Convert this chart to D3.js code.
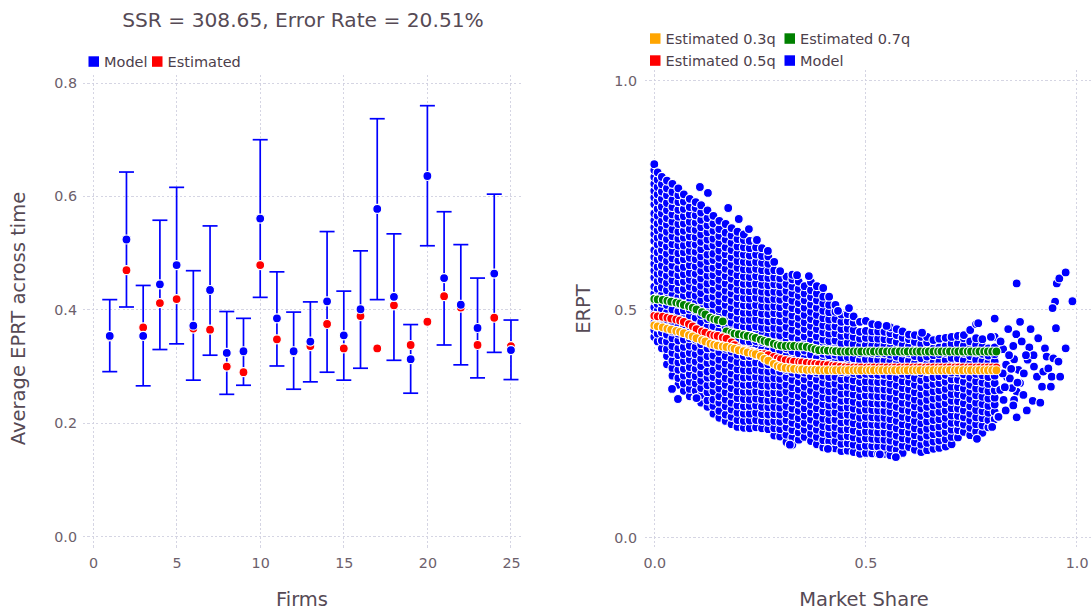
<!DOCTYPE html>
<html>
<head>
<meta charset="utf-8">
<script src="https://cdn.jsdelivr.net/npm/d3@7"></script>
<style>
  html, body { margin: 0; padding: 0; background: #ffffff; }
  svg { display: block; font-family: "DejaVu Sans", sans-serif; }
</style>
</head>
<body>
<svg id="chart" width="1091" height="612"></svg>
<script>
// ---------- Left panel: average EPRT per firm ----------
const titleText = "SSR = 308.65, Error Rate = 20.51%";
const firms = [1,2,3,4,5,6,7,8,9,10,11,12,13,14,15,16,17,18,19,20,21,22,23,24,25];
const modelMean = [.354,.524,.354,.445,.479,.372,.435,.324,.327,.561,.385,.327,.344,.415,.355,.401,.578,.423,.313,.636,.456,.409,.368,.464,.329];
const modelLow  = [.291,.405,.266,.330,.340,.276,.320,.251,.267,.422,.301,.260,.273,.290,.276,.297,.418,.311,.253,.513,.338,.303,.280,.325,.277];
const modelHigh = [.418,.643,.443,.558,.616,.469,.548,.397,.385,.700,.467,.396,.414,.538,.433,.504,.737,.534,.374,.760,.573,.515,.456,.604,.382];
const estimated = [.353,.470,.369,.412,.419,.367,.365,.300,.290,.479,.348,.326,.336,.375,.332,.389,.332,.408,.338,.379,.424,.404,.338,.386,.336];
const firmTicks = [0,5,10,15,20,25];
const eprtTicks = [0,0.2,0.4,0.6,0.8];

// ---------- Right panel: ERPT against market share ----------
const shareTicks = [0,0.5,1];
const erptTicks = [0,0.5,1];

// model observations, grouped by market-share column
const modelShareCols = [0,.008,.018,.03,.043,.057,.07,.084,.098,.111,.126,.14,.154,.169,.183,.197,.212,.226,.241,.255,.27,.284,.298,.313,.327,.342,.356,.371,.385,.4,.414,.429,.443,.458,.472,.487,.501,.516,.53,.545,.559,.574,.588,.603,.617,.632,.646,.661,.675,.69,.704,.719,.733,.748,.762,.777,.791,.806];
const modelErptCols = [
  [.44,.455,.47,.49,.505,.52,.535,.55,.57,.585,.6,.615,.63,.65,.665,.68,.695,.71,.73,.745,.76,.775,.79,.805,.818],
  [.43,.447,.462,.48,.497,.512,.528,.545,.562,.578,.593,.61,.625,.642,.657,.673,.688,.705,.72,.737,.752,.768,.784,.8],
  [.415,.432,.45,.466,.483,.5,.515,.532,.548,.565,.58,.596,.613,.63,.645,.66,.677,.693,.71,.725,.742,.758,.774,.79],
  [.38,.398,.413,.43,.445,.462,.478,.493,.51,.526,.542,.558,.574,.59,.606,.622,.638,.654,.67,.686,.7,.717,.733,.75,.765,.782],
  [.355,.372,.388,.405,.42,.437,.452,.468,.485,.5,.516,.532,.548,.564,.58,.596,.612,.628,.643,.66,.675,.692,.708,.724,.74,.757,.775],
  [.335,.35,.368,.384,.4,.415,.432,.447,.463,.48,.496,.512,.527,.543,.56,.575,.59,.607,.623,.64,.655,.67,.687,.703,.718,.735,.75,.765],
  [.322,.338,.355,.37,.387,.402,.418,.434,.45,.466,.482,.498,.513,.53,.545,.561,.577,.593,.61,.625,.64,.657,.672,.688,.704,.72,.736,.752],
  [.31,.326,.342,.358,.374,.39,.405,.421,.437,.453,.47,.485,.5,.517,.533,.55,.565,.58,.597,.613,.628,.644,.66,.676,.692,.708,.724,.742],
  [.306,.322,.338,.354,.37,.386,.402,.418,.434,.45,.466,.482,.498,.514,.53,.546,.562,.578,.594,.61,.626,.642,.658,.674,.69,.706,.722,.735],
  [.296,.312,.328,.344,.36,.376,.392,.408,.424,.44,.456,.472,.488,.504,.52,.536,.552,.568,.584,.6,.616,.632,.648,.664,.68,.696,.712,.728],
  [.287,.301,.319,.334,.351,.364,.383,.398,.415,.428,.447,.462,.479,.493,.511,.525,.543,.557,.574,.59,.606,.62,.638,.653,.669,.684,.7,.717],
  [.272,.289,.303,.321,.336,.352,.367,.385,.399,.416,.431,.449,.463,.48,.496,.511,.528,.543,.56,.575,.591,.608,.622,.64,.655,.672,.688,.705],
  [.263,.278,.296,.31,.327,.343,.358,.375,.39,.407,.421,.439,.454,.47,.486,.501,.518,.533,.55,.565,.582,.597,.613,.629,.645,.661,.676,.694],
  [.256,.27,.288,.303,.319,.335,.35,.367,.382,.398,.414,.43,.446,.461,.478,.493,.51,.525,.541,.557,.573,.589,.605,.621,.636,.653,.668,.687],
  [.249,.265,.281,.296,.313,.328,.345,.36,.376,.392,.408,.423,.44,.455,.471,.487,.503,.519,.535,.55,.567,.582,.598,.614,.63,.646,.662,.678],
  [.243,.258,.274,.29,.306,.321,.338,.353,.369,.385,.401,.416,.433,.448,.464,.48,.496,.512,.527,.543,.559,.575,.591,.606,.622,.638,.654,.67],
  [.241,.256,.272,.288,.304,.32,.335,.351,.367,.383,.398,.414,.43,.446,.462,.477,.493,.509,.525,.541,.556,.572,.588,.604,.62,.636,.652,.664],
  [.24,.257,.272,.289,.303,.32,.335,.352,.366,.383,.398,.414,.43,.445,.461,.477,.493,.508,.524,.54,.556,.571,.587,.603,.618,.634,.65],
  [.242,.258,.274,.29,.305,.321,.337,.353,.368,.384,.4,.416,.431,.447,.463,.478,.494,.51,.526,.541,.557,.573,.589,.604,.62,.636,.652],
  [.24,.256,.271,.287,.303,.319,.334,.35,.366,.381,.397,.413,.429,.444,.46,.476,.491,.507,.523,.539,.554,.57,.586,.602,.617,.634],
  [.238,.254,.27,.286,.301,.317,.333,.349,.364,.38,.396,.411,.427,.443,.459,.474,.49,.506,.522,.537,.553,.569,.584,.6,.616,.628],
  [.224,.24,.256,.271,.287,.303,.319,.334,.35,.366,.382,.397,.413,.429,.445,.46,.476,.492,.507,.523,.539,.555,.57,.586,.604],
  [.222,.238,.254,.27,.285,.301,.317,.333,.348,.364,.38,.395,.411,.427,.443,.458,.474,.49,.505,.521,.537,.553,.568,.584],
  [.21,.226,.242,.258,.273,.289,.305,.321,.336,.352,.368,.383,.399,.415,.431,.446,.462,.478,.493,.509,.525,.541,.556,.572],
  [.204,.22,.236,.252,.267,.283,.299,.315,.33,.346,.362,.377,.393,.409,.425,.44,.456,.472,.487,.503,.519,.535,.55,.566,.576],
  [.215,.231,.247,.262,.278,.294,.31,.325,.341,.357,.372,.388,.404,.42,.435,.451,.467,.482,.498,.514,.53,.545,.561],
  [.221,.237,.252,.268,.284,.3,.315,.331,.347,.362,.378,.394,.41,.425,.441,.457,.472,.488,.504,.52,.535,.551],
  [.212,.228,.244,.259,.275,.291,.307,.322,.338,.354,.369,.385,.401,.417,.432,.448,.464,.479,.495,.511,.527,.542,.56],
  [.205,.221,.237,.252,.268,.284,.3,.315,.331,.347,.362,.378,.394,.41,.425,.441,.457,.472,.488,.504,.52,.535,.551],
  [.198,.214,.23,.245,.261,.277,.293,.308,.324,.34,.355,.371,.387,.403,.418,.434,.45,.465,.481,.497,.513,.528],
  [.195,.211,.227,.242,.258,.274,.29,.305,.321,.337,.352,.368,.384,.4,.415,.431,.447,.462,.478,.494,.51,.528],
  [.196,.212,.228,.243,.259,.275,.291,.306,.322,.338,.353,.369,.385,.401,.416,.432,.448,.463,.479,.495,.51],
  [.19,.206,.222,.237,.253,.269,.285,.3,.316,.332,.347,.363,.379,.395,.41,.426,.442,.457,.473,.489],
  [.191,.207,.223,.238,.254,.27,.286,.301,.317,.333,.348,.364,.38,.396,.411,.427,.443,.458,.474,.49],
  [.188,.204,.22,.235,.251,.267,.283,.298,.314,.33,.345,.361,.377,.393,.408,.424,.44,.455,.471,.485],
  [.184,.2,.216,.231,.247,.263,.279,.294,.31,.326,.341,.357,.373,.389,.404,.42,.436,.451,.473],
  [.186,.202,.218,.233,.249,.265,.281,.296,.312,.328,.343,.359,.375,.391,.406,.422,.438,.453,.475],
  [.185,.201,.217,.232,.248,.264,.28,.295,.311,.327,.342,.358,.374,.39,.405,.421,.437,.452,.468],
  [.184,.2,.216,.231,.247,.263,.279,.294,.31,.326,.341,.357,.373,.389,.404,.42,.436,.452,.466],
  [.184,.2,.215,.231,.247,.263,.278,.294,.31,.325,.341,.357,.373,.388,.404,.42,.435,.451],
  [.181,.197,.213,.228,.244,.26,.276,.291,.307,.323,.338,.354,.37,.386,.401,.417,.433,.448,.461],
  [.177,.193,.209,.224,.24,.256,.272,.287,.303,.319,.334,.35,.366,.382,.397,.413,.429,.444,.457],
  [.186,.202,.218,.233,.249,.265,.281,.296,.312,.328,.343,.359,.375,.391,.406,.422,.438,.452],
  [.199,.215,.231,.246,.262,.278,.294,.309,.325,.341,.356,.372,.388,.404,.419,.435,.445],
  [.193,.209,.225,.24,.256,.272,.288,.303,.319,.335,.35,.366,.382,.398,.413,.429,.444],
  [.188,.204,.22,.235,.251,.267,.283,.298,.314,.33,.345,.361,.377,.393,.408,.424,.44],
  [.192,.208,.224,.239,.255,.271,.287,.302,.318,.334,.349,.365,.381,.397,.412,.428,.44],
  [.195,.211,.227,.242,.258,.274,.29,.305,.321,.337,.352,.368,.384,.4,.415,.433],
  [.197,.213,.229,.244,.26,.276,.292,.307,.323,.339,.354,.37,.386,.402,.417,.436],
  [.2,.216,.232,.247,.263,.279,.295,.31,.326,.342,.357,.373,.389,.405,.42,.438],
  [.205,.221,.237,.252,.268,.284,.3,.315,.331,.347,.362,.378,.394,.41,.425,.44],
  [.22,.236,.252,.267,.283,.299,.315,.33,.346,.362,.377,.393,.409,.425,.442],
  [.232,.248,.264,.279,.295,.311,.327,.342,.358,.374,.389,.405,.421,.437,.444],
  [.225,.241,.257,.272,.288,.304,.32,.335,.351,.367,.382,.398,.414,.43,.455],
  [.233,.249,.264,.28,.296,.312,.327,.343,.359,.374,.39,.406,.422,.437,.468],
  [.23,.246,.262,.277,.293,.309,.325,.34,.356,.372,.387,.403,.419,.435],
  [.242,.258,.274,.289,.305,.321,.337,.352,.368,.384,.399,.415],
  [.26,.276,.292,.307,.323,.339,.355,.37,.386,.402,.417,.44,.48]
];
// isolated model observations around the edges of the cloud
const modelShareExtra = [.108,.127,.175,.2,.224,.243,.269,.298,.338,.366,.4,.435,.461,.55,.634,.767,.797,
  .042,.056,.1,.321,.411,.572,.534,.764,.8,.814,
  .819,.827,.832,.815,
  .826,.833,.838,.835,.842,.852,.857,.858,.866,.862,.866,.858,.852,.858,.874,.882,.884,.888,.891,.896,.899,.898,.906,.909,.914,.918,.921,.925,.929,.933,.939,.941,.945,.951,.949,.943,.953,.959,.974,.99,.974,.957,.961,
  .847,
  .82,.825,.83,.84,.845,.85,.85,.86,.87,.875,.88];
const modelErptExtra = [.768,.755,.722,.698,.676,.652,.628,.584,.575,.573,.547,.497,.503,.464,.449,.47,.44,
  .326,.304,.306,.204,.195,.177,.183,.217,.243,.265,
  .324,.302,.279,.265,
  .413,.379,.457,.352,.349,.391,.446,.557,.473,.368,.339,.32,.302,.264,.313,.279,.39,.417,.457,.3,.375,.4,.353,.437,.296,.331,.364,.415,.397,.371,.331,.353,.393,.459,.517,.503,.557,.568,.581,.518,.415,.386,.353,
  .328,
  .43,.36,.33,.40,.37,.42,.29,.34,.43,.36,.40];

// estimated quantile curves of ERPT over market share
const quantShare = [0,.008,.02,.031,.04,.052,.061,.07,.082,.091,.1,.113,.121,.133,.142,.15,.162,.171,.183,.19,.2,.212,.221,.233,.24,.252,.261,.27,.283,.292,.3,.311,.322,.331,.343,.35,.361,.372,.381,.39,.402,.411,.423,.43,.441,.452,.46,.472,.481,.49,.503,.511,.52,.532,.54,.551,.562,.57,.581,.592,.6,.612,.621,.63,.642,.65,.661,.672,.68,.691,.7,.712,.72,.731,.742,.75,.762,.77,.781,.79,.8,.81];
const estQ7 = [.523,.522,.521,.519,.517,.515,.513,.510,.507,.504,.500,.494,.489,.482,.479,.477,.474,.452,.449,.447,.446,.444,.442,.440,.438,.434,.431,.429,.425,.422,.421,.420,.420,.420,.419,.419,.418,.416,.413,.411,.411,.410,.410,.409,.408,.408,.408,.408,.408,.408,.408,.408,.408,.408,.408,.408,.408,.408,.408,.408,.408,.408,.408,.408,.408,.408,.408,.408,.408,.408,.408,.408,.408,.408,.408,.408,.408,.408,.408,.408,.408,.408];
const estQ5 = [.486,.485,.484,.482,.480,.478,.476,.473,.468,.463,.457,.452,.449,.445,.443,.442,.439,.436,.428,.422,.415,.412,.409,.407,.405,.403,.402,.400,.396,.393,.391,.389,.387,.386,.385,.384,.383,.382,.381,.380,.379,.378,.377,.376,.375,.374,.373,.373,.373,.373,.373,.373,.373,.373,.373,.373,.373,.373,.373,.373,.373,.373,.373,.373,.373,.373,.373,.373,.373,.373,.373,.373,.373,.373,.373,.373,.373,.373,.373,.373,.373,.373];
const estQ3 = [.465,.463,.461,.458,.456,.453,.451,.448,.444,.441,.437,.433,.430,.425,.423,.421,.419,.418,.416,.414,.411,.409,.406,.404,.402,.398,.392,.388,.381,.376,.374,.372,.371,.370,.369,.369,.368,.368,.368,.367,.367,.367,.367,.367,.367,.367,.367,.367,.367,.367,.367,.367,.367,.367,.367,.367,.367,.367,.367,.367,.367,.367,.367,.367,.367,.367,.367,.367,.367,.367,.367,.367,.367,.367,.367,.367,.367,.367,.367,.367,.367,.367];

// ---------- styling ----------
const BLUE = "#0000ff", RED = "#ff0000", ORANGE = "#ffa500", GREEN = "#008000";
const GRID = "#d0d0e0", TICK_TEXT = "#6c606b", LABEL_TEXT = "#564a55", KEY_TEXT = "#4c404b";
const PT_R = 4.5, PT_STROKE = 1.2;

const svg = d3.select("#chart");

const leftBox = {x0: 83, x1: 521, y0: 74.5, y1: 548};
const rightBox = {x0: 645, x1: 1091, y0: 70, y1: 548};

const xL = d3.scaleLinear().domain([-0.6, 25.6]).range([leftBox.x0, leftBox.x1]);
const yL = d3.scaleLinear().domain([-0.02, 0.815]).range([leftBox.y1, leftBox.y0]);
const xR = d3.scaleLinear().domain([-0.022, 1.034]).range([rightBox.x0, rightBox.x1]);
const yR = d3.scaleLinear().domain([-0.022, 1.024]).range([rightBox.y1, rightBox.y0]);

function drawGrid(g, x, y, xt, yt, box) {
  const gg = g.append("g").attr("class", "grid");
  gg.selectAll("line.gx").data(xt).join("line").attr("class", "gx")
    .attr("x1", d => x(d)).attr("x2", d => x(d))
    .attr("y1", box.y0).attr("y2", box.y1);
  gg.selectAll("line.gy").data(yt).join("line").attr("class", "gy")
    .attr("x1", box.x0).attr("x2", box.x1)
    .attr("y1", d => y(d)).attr("y2", d => y(d));
  gg.selectAll("line")
    .attr("stroke", GRID).attr("stroke-width", 0.9)
    .attr("stroke-dasharray", "2.2,2.2").attr("shape-rendering", "crispEdges");
}

function styleAxis(sel) {
  sel.select(".domain").remove();
  sel.selectAll(".tick line").remove();
  sel.attr("font-family", null).attr("font-size", null);
  sel.selectAll("text")
    .attr("fill", TICK_TEXT)
    .style("font-family", "'DejaVu Sans', sans-serif")
    .style("font-size", "14.3px");
}

function drawAxes(g, x, y, xt, yt, box, xfmt, yfmt, ypad) {
  g.append("g").attr("transform", `translate(0,${box.y1})`)
    .call(d3.axisBottom(x).tickValues(xt).tickFormat(xfmt).tickSize(0).tickPadding(10))
    .call(styleAxis);
  g.append("g").attr("transform", `translate(${box.x0},0)`)
    .call(d3.axisLeft(y).tickValues(yt).tickFormat(yfmt).tickSize(0).tickPadding(ypad))
    .call(styleAxis);
}

// key entries fill each column top to bottom (rowsPerCol rows), columns at colX offsets
function legend(g, items, x0, y0, colX, rowH, rowsPerCol) {
  items.forEach((it, i) => {
    const c = Math.floor(i / rowsPerCol), r = i % rowsPerCol;
    const gx = x0 + colX[c], gy = y0 + r * rowH;
    g.append("rect").attr("x", gx).attr("y", gy - 5.2)
      .attr("width", 10.5).attr("height", 10.5).attr("fill", it.color);
    g.append("text").attr("x", gx + 15.5).attr("y", gy + 5.2)
      .attr("fill", KEY_TEXT).style("font-size", "14.5px").text(it.name);
  });
}

// ---------- left panel ----------
const gL = svg.append("g");
drawGrid(gL, xL, yL, firmTicks, eprtTicks, leftBox);
drawAxes(gL, xL, yL, firmTicks, eprtTicks, leftBox, d3.format("d"), d3.format(".1f"), 6);

const barData = firms.map((f, i) => ({firm: f, lo: modelLow[i], hi: modelHigh[i]}));
const bars = gL.append("g").attr("stroke", BLUE).attr("stroke-width", 1.7).attr("fill", "none");
bars.selectAll("line.v").data(barData).join("line").attr("class", "v")
  .attr("x1", d => xL(d.firm)).attr("x2", d => xL(d.firm))
  .attr("y1", d => yL(d.lo)).attr("y2", d => yL(d.hi));
bars.selectAll("line.top").data(barData).join("line").attr("class", "top")
  .attr("x1", d => xL(d.firm) - 7.5).attr("x2", d => xL(d.firm) + 7.5)
  .attr("y1", d => yL(d.hi)).attr("y2", d => yL(d.hi));
bars.selectAll("line.bot").data(barData).join("line").attr("class", "bot")
  .attr("x1", d => xL(d.firm) - 7.5).attr("x2", d => xL(d.firm) + 7.5)
  .attr("y1", d => yL(d.lo)).attr("y2", d => yL(d.lo));

gL.append("g").selectAll("circle").data(firms.map((f, i) => [f, estimated[i]])).join("circle")
  .attr("cx", d => xL(d[0])).attr("cy", d => yL(d[1])).attr("r", PT_R)
  .attr("fill", RED).attr("stroke", "#fff").attr("stroke-width", PT_STROKE);
gL.append("g").selectAll("circle").data(firms.map((f, i) => [f, modelMean[i]])).join("circle")
  .attr("cx", d => xL(d[0])).attr("cy", d => yL(d[1])).attr("r", PT_R)
  .attr("fill", BLUE).attr("stroke", "#fff").attr("stroke-width", PT_STROKE);

svg.append("text").attr("x", 303).attr("y", 26.5).attr("text-anchor", "middle")
  .attr("fill", LABEL_TEXT).style("font-size", "20.2px").text(titleText);
legend(svg, [{name: "Model", color: BLUE}, {name: "Estimated", color: RED}], 88.5, 61.5, [0, 63.5], 0, 1);
svg.append("text").attr("x", 302).attr("y", 606).attr("text-anchor", "middle")
  .attr("fill", LABEL_TEXT).style("font-size", "19.5px").text("Firms");
svg.append("text").attr("transform", "translate(25,318.5) rotate(-90)").attr("text-anchor", "middle")
  .attr("fill", LABEL_TEXT).style("font-size", "19.5px").text("Average EPRT across time");

// ---------- right panel ----------
const gR = svg.append("g");
drawGrid(gR, xR, yR, shareTicks, erptTicks, rightBox);
drawAxes(gR, xR, yR, shareTicks, erptTicks, rightBox, d3.format(".1f"), d3.format(".1f"), 8);

const modelPts = [];
modelShareCols.forEach((s, i) => modelErptCols[i].forEach(v => modelPts.push([s, v])));
modelShareExtra.forEach((s, i) => modelPts.push([s, modelErptExtra[i]]));

function scatter(g, pts, color) {
  g.append("g").selectAll("circle").data(pts).join("circle")
    .attr("cx", d => xR(d[0])).attr("cy", d => yR(d[1])).attr("r", PT_R)
    .attr("fill", color).attr("stroke", "#fff").attr("stroke-width", PT_STROKE);
}
scatter(gR, modelPts, BLUE);
scatter(gR, quantShare.map((s, i) => [s, estQ7[i]]), GREEN);
scatter(gR, quantShare.map((s, i) => [s, estQ5[i]]), RED);
scatter(gR, quantShare.map((s, i) => [s, estQ3[i]]), ORANGE);

legend(svg, [
  {name: "Estimated 0.3q", color: ORANGE},
  {name: "Estimated 0.5q", color: RED},
  {name: "Estimated 0.7q", color: GREEN},
  {name: "Model", color: BLUE}
], 650, 38.5, [0, 134.5], 22, 2);

svg.append("text").attr("x", 864).attr("y", 606).attr("text-anchor", "middle")
  .attr("fill", LABEL_TEXT).style("font-size", "19.5px").text("Market Share");
svg.append("text").attr("transform", "translate(590,309) rotate(-90)").attr("text-anchor", "middle")
  .attr("fill", LABEL_TEXT).style("font-size", "19.5px").text("ERPT");
</script>
</body>
</html>
